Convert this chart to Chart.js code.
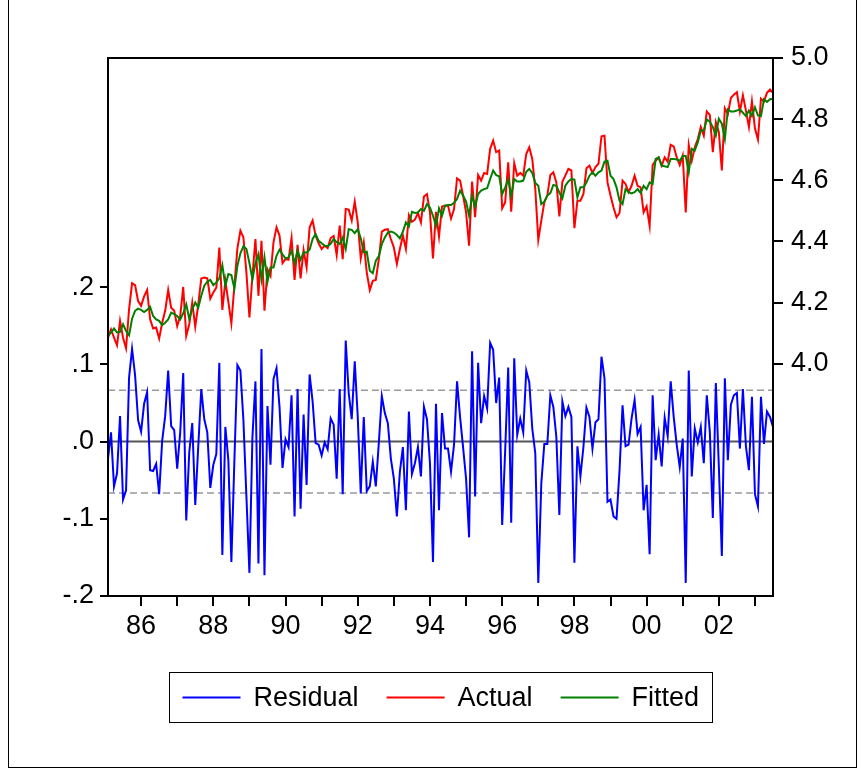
<!DOCTYPE html>
<html>
<head>
<meta charset="utf-8">
<title>Residual / Actual / Fitted</title>
<script src="https://cdn.jsdelivr.net/npm/chart.js"></script>
<style>
  html, body { margin: 0; padding: 0; background: #fff; }
  #chart { display: block; }
</style>
</head>
<body>
<canvas id="chart" width="862" height="771"></canvas>
<script>
// monthly sample, 1985M02 .. 2003M07 (one row per year)
var START_YEAR = 1985, START_MONTH = 2;

var residual = [
  -0.022, 0.012, -0.058, -0.041, 0.033, -0.075, -0.063, 0.083, 0.120, 0.086, 0.028,
  0.013, 0.049, 0.064, -0.037, -0.038, -0.029, -0.068, 0.001, 0.033, 0.092, 0.020, 0.015,
  -0.035, 0.012, 0.089, -0.102, -0.014, 0.024, -0.082, -0.006, 0.068, 0.029, 0.012, -0.060,
  -0.030, -0.016, 0.102, -0.147, 0.019, -0.024, -0.156, -0.025, 0.099, 0.092, 0.028, -0.071,
  -0.170, 0.006, 0.078, -0.158, 0.120, -0.173, 0.046, -0.030, 0.081, 0.095, 0.045, -0.034,
  0.003, -0.007, 0.060, -0.097, 0.068, -0.087, 0.035, -0.056, 0.087, 0.052, -0.002, -0.004,
  -0.018, -0.001, -0.010, 0.030, 0.022, -0.048, 0.068, -0.068, 0.131, 0.063, 0.029, 0.104,
  0.032, -0.067, 0.032, -0.064, -0.058, -0.026, -0.058, -0.002, 0.059, 0.037, 0.024, -0.022,
  -0.048, -0.097, -0.039, -0.007, -0.089, 0.039, -0.042, -0.028, -0.007, -0.045, 0.045, 0.029,
  -0.028, -0.156, 0.049, -0.089, 0.037, -0.009, -0.009, -0.039, -0.004, 0.078, 0.032, -0.007,
  -0.048, -0.124, 0.117, -0.071, 0.102, 0.024, 0.059, 0.043, 0.128, 0.119, 0.050, 0.083,
  -0.108, -0.011, 0.096, -0.105, 0.108, 0.009, 0.030, 0.012, 0.092, 0.077, 0.017, -0.015,
  -0.183, -0.054, -0.003, -0.003, 0.060, 0.045, 0.006, -0.095, 0.052, 0.033, 0.045, 0.032,
  -0.157, -0.006, -0.045, -0.007, 0.044, 0.032, -0.009, 0.025, 0.029, 0.110, 0.082, -0.078,
  -0.075, -0.097, -0.100, -0.037, 0.047, -0.006, -0.004, 0.030, 0.054, 0.010, 0.019, -0.089,
  -0.056, -0.146, 0.060, -0.024, 0.009, -0.032, 0.031, 0.007, 0.078, 0.032, -0.004, -0.033,
  0.004, -0.183, 0.092, -0.045, 0.017, -0.001, 0.019, -0.028, 0.060, 0.013, -0.099, 0.076,
  -0.032, -0.148, 0.082, -0.024, 0.048, 0.060, 0.063, -0.009, 0.068, -0.006, -0.037, 0.058,
  -0.068, -0.084, 0.058, -0.003, 0.039, 0.032, 0.019
];

var actual = [
  4.085, 4.112, 4.085, 4.060, 4.140, 4.085, 4.050, 4.178, 4.263, 4.257, 4.205,
  4.189, 4.220, 4.241, 4.145, 4.115, 4.118, 4.082, 4.134, 4.173, 4.241, 4.183, 4.173,
  4.123, 4.156, 4.251, 4.091, 4.129, 4.200, 4.121, 4.194, 4.279, 4.282, 4.279, 4.213,
  4.233, 4.249, 4.380, 4.176, 4.271, 4.202, 4.132, 4.255, 4.377, 4.435, 4.413, 4.298,
  4.151, 4.287, 4.408, 4.222, 4.402, 4.173, 4.309, 4.287, 4.397, 4.446, 4.419, 4.329,
  4.342, 4.340, 4.411, 4.274, 4.389, 4.279, 4.372, 4.315, 4.446, 4.468, 4.419, 4.394,
  4.375, 4.386, 4.378, 4.411, 4.418, 4.355, 4.452, 4.342, 4.506, 4.504, 4.468, 4.530,
  4.462, 4.344, 4.397, 4.298, 4.241, 4.271, 4.274, 4.342, 4.432, 4.438, 4.440, 4.408,
  4.380, 4.326, 4.375, 4.419, 4.375, 4.486, 4.464, 4.471, 4.493, 4.462, 4.547, 4.555,
  4.495, 4.344, 4.497, 4.416, 4.514, 4.517, 4.517, 4.475, 4.506, 4.606, 4.599, 4.550,
  4.495, 4.386, 4.596, 4.479, 4.617, 4.599, 4.624, 4.621, 4.703, 4.730, 4.692, 4.697,
  4.508, 4.528, 4.659, 4.497, 4.656, 4.615, 4.624, 4.615, 4.686, 4.708, 4.670, 4.571,
  4.405, 4.468, 4.528, 4.550, 4.617, 4.626, 4.593, 4.482, 4.595, 4.616, 4.637, 4.632,
  4.443, 4.533, 4.533, 4.555, 4.639, 4.648, 4.624, 4.643, 4.654, 4.744, 4.746, 4.593,
  4.550, 4.511, 4.479, 4.493, 4.599, 4.588, 4.561, 4.582, 4.615, 4.582, 4.577, 4.495,
  4.515, 4.451, 4.650, 4.664, 4.675, 4.648, 4.675, 4.661, 4.716, 4.711, 4.675, 4.650,
  4.681, 4.495, 4.716, 4.664, 4.708, 4.735, 4.774, 4.746, 4.825, 4.814, 4.692, 4.790,
  4.757, 4.632, 4.836, 4.817, 4.869, 4.880, 4.888, 4.825, 4.878, 4.828, 4.774, 4.858,
  4.770, 4.733, 4.867, 4.858, 4.886, 4.897, 4.886
];

var fitted = [
  4.091, 4.102, 4.115, 4.102, 4.104, 4.129, 4.107, 4.093, 4.147, 4.173, 4.180,
  4.176, 4.169, 4.176, 4.186, 4.156, 4.145, 4.140, 4.126, 4.134, 4.145, 4.167, 4.162,
  4.156, 4.145, 4.165, 4.194, 4.147, 4.178, 4.200, 4.183, 4.222, 4.255, 4.268, 4.274,
  4.257, 4.266, 4.279, 4.322, 4.255, 4.293, 4.290, 4.246, 4.320, 4.361, 4.384, 4.375,
  4.329, 4.276, 4.329, 4.358, 4.276, 4.348, 4.268, 4.315, 4.315, 4.353, 4.373, 4.358,
  4.344, 4.348, 4.369, 4.329, 4.369, 4.340, 4.364, 4.364, 4.373, 4.408, 4.424, 4.402,
  4.394, 4.386, 4.384, 4.392, 4.408, 4.397, 4.391, 4.413, 4.375, 4.440, 4.438, 4.427,
  4.440, 4.410, 4.364, 4.366, 4.304, 4.296, 4.337, 4.351, 4.391, 4.413, 4.429, 4.432,
  4.429, 4.421, 4.410, 4.432, 4.462, 4.449, 4.497, 4.493, 4.495, 4.506, 4.500, 4.522,
  4.511, 4.484, 4.451, 4.508, 4.484, 4.517, 4.519, 4.519, 4.526, 4.539, 4.566, 4.550,
  4.530, 4.484, 4.550, 4.515, 4.555, 4.566, 4.571, 4.574, 4.604, 4.632, 4.617, 4.613,
  4.555, 4.577, 4.602, 4.550, 4.604, 4.596, 4.596, 4.599, 4.628, 4.637, 4.624, 4.591,
  4.582, 4.522, 4.530, 4.550, 4.558, 4.585, 4.582, 4.560, 4.541, 4.582, 4.596, 4.604,
  4.602, 4.544, 4.577, 4.577, 4.593, 4.615, 4.626, 4.615, 4.626, 4.632, 4.661, 4.664,
  4.615, 4.604, 4.577, 4.533, 4.522, 4.571, 4.561, 4.557, 4.561, 4.571, 4.558, 4.582,
  4.571, 4.593, 4.588, 4.670, 4.675, 4.648, 4.646, 4.643, 4.670, 4.670, 4.668, 4.664,
  4.679, 4.679, 4.626, 4.703, 4.697, 4.724, 4.763, 4.763, 4.799, 4.792, 4.774, 4.746,
  4.801, 4.785, 4.735, 4.832, 4.825, 4.825, 4.828, 4.832, 4.821, 4.810, 4.828, 4.810,
  4.839, 4.812, 4.810, 4.865, 4.856, 4.865, 4.867
];

var residTicks = [-0.2, -0.1, 0, 0.1, 0.2];
var levelTicks = [4.0, 4.2, 4.4, 4.6, 4.8, 5.0];
var seBand = 0.0665;      // +/- one S.E. of regression, dashed

var FONT = 'Liberation Sans, Arial, sans-serif';
var FONT_SIZE = 27;
Chart.defaults.font.family = FONT;
Chart.defaults.font.size = FONT_SIZE;
Chart.defaults.color = '#000';

var periods = [];
for (var i = 0; i < residual.length; i++) {
  var m = START_MONTH - 1 + i;
  periods.push({year: START_YEAR + Math.floor(m / 12), month: m % 12 + 1});
}
var labels = periods.map(function(p) {
  return p.year + 'M' + (p.month < 10 ? '0' : '') + p.month;
});

function residLabel(v) {
  var s = Math.abs(v).toFixed(1).replace(/^0/, '');
  return (v < 0 ? '-' : '') + s;
}

function fixTicks(list) {
  return function(scale) {
    scale.ticks = list.map(function(v) { return {value: v}; });
  };
}

// plot furniture EViews draws: S.E. bands, zero line, box, frame and legend
var eviewsFrame = {
  id: 'eviewsFrame',
  beforeDatasetsDraw: function(chart) {
    var ctx = chart.ctx, area = chart.chartArea, yL = chart.scales.yL;
    ctx.save();
    ctx.strokeStyle = '#9a9a9a';
    ctx.lineWidth = 1.5;
    ctx.setLineDash([7, 4]);
    [seBand, -seBand].forEach(function(v) {
      var y = yL.getPixelForValue(v);
      ctx.beginPath(); ctx.moveTo(area.left, y); ctx.lineTo(area.right, y); ctx.stroke();
    });
    ctx.setLineDash([]);
    ctx.strokeStyle = '#555';
    ctx.lineWidth = 2;
    var y0 = yL.getPixelForValue(0);
    ctx.beginPath(); ctx.moveTo(area.left, y0); ctx.lineTo(area.right, y0); ctx.stroke();
    ctx.restore();
  },
  afterDraw: function(chart) {
    var ctx = chart.ctx, area = chart.chartArea;
    ctx.save();
    ctx.strokeStyle = '#000';
    ctx.lineWidth = 2;
    ctx.strokeRect(area.left, area.top, area.right - area.left, area.bottom - area.top);

    // outer frame
    ctx.lineWidth = 1;
    ctx.strokeRect(8.5, -2, 848, 769.5);

    // legend
    var items = chart.data.datasets.map(function(ds) {
      return {label: ds.label, color: ds.borderColor};
    });
    var lineLen = 58, gap = 13, between = 28, pad = 13;
    ctx.font = FONT_SIZE + 'px ' + FONT;
    var w = pad * 2 + between * (items.length - 1);
    items.forEach(function(it) {
      it.tw = ctx.measureText(it.label).width;
      w += lineLen + gap + it.tw;
    });
    w = Math.round(w);
    var left = Math.round((area.left + area.right) / 2 - w / 2) + 0.5;
    var top = 672.5, h = 50, mid = top + h / 2;
    ctx.strokeRect(left, top, w, h);
    var x = left + pad;
    ctx.textBaseline = 'middle';
    ctx.fillStyle = '#000';
    items.forEach(function(it) {
      ctx.strokeStyle = it.color;
      ctx.lineWidth = 2;
      ctx.beginPath(); ctx.moveTo(x, mid); ctx.lineTo(x + lineLen, mid); ctx.stroke();
      ctx.fillText(it.label, x + lineLen + gap, mid + 1);
      x += lineLen + gap + it.tw + between;
    });
    ctx.restore();
  }
};

new Chart(document.getElementById('chart'), {
  type: 'line',
  data: {
    labels: labels,
    datasets: [
      {label: 'Residual', data: residual, yAxisID: 'yL', borderColor: '#0000ff', order: 3},
      {label: 'Actual', data: actual, yAxisID: 'yR', borderColor: '#ff0000', order: 2},
      {label: 'Fitted', data: fitted, yAxisID: 'yR', borderColor: '#008000', order: 1}
    ]
  },
  options: {
    responsive: false,
    animation: false,
    events: [],
    layout: {padding: {top: 58, left: 0, right: 0, bottom: 0}},
    elements: {
      point: {radius: 0},
      line: {borderWidth: 2, tension: 0, fill: false}
    },
    plugins: {legend: {display: false}, tooltip: {enabled: false}},
    scales: {
      x: {
        type: 'category',
        offset: false,
        afterBuildTicks: function(scale) {
          scale.ticks = scale.ticks.filter(function(t) {
            return periods[t.value].month === 1;
          });
        },
        afterFit: function(scale) { scale.height = 175; },
        ticks: {
          autoSkip: false, maxRotation: 0, padding: 4,
          callback: function(value) {
            var y = periods[value].year;
            return y % 2 === 0 ? String(y).slice(2) : '';
          }
        },
        grid: {drawOnChartArea: false, tickLength: 10, color: '#000', lineWidth: 2},
        border: {display: true, color: '#000', width: 2}
      },
      yL: {
        position: 'left',
        min: -0.2, max: 0.497,
        afterBuildTicks: fixTicks(residTicks),
        afterFit: function(scale) { scale.width = 108; },
        ticks: {padding: 6, callback: residLabel},
        grid: {drawOnChartArea: false, tickLength: 8, color: '#000', lineWidth: 2},
        border: {display: true, color: '#000', width: 2}
      },
      yR: {
        position: 'right',
        min: 3.24, max: 5.0,
        afterBuildTicks: fixTicks(levelTicks),
        afterFit: function(scale) { scale.width = 89; },
        ticks: {padding: 8, callback: function(v) { return v.toFixed(1); }},
        grid: {drawOnChartArea: false, tickLength: 10, color: '#000', lineWidth: 2},
        border: {display: true, color: '#000', width: 2}
      }
    }
  },
  plugins: [eviewsFrame]
});
</script>
</body>
</html>
